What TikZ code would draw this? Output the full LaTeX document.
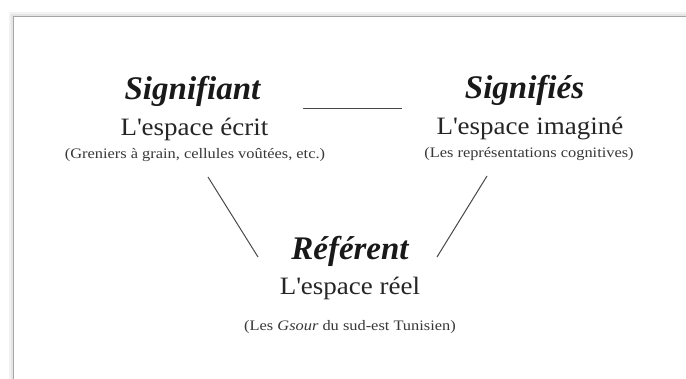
\documentclass[tikz,border=0pt]{standalone}
\usepackage{fontspec}
\setmainfont{Liberation Serif}
\newfontfamily\subfont[FakeStretch=1.08]{Liberation Serif}
\newfontfamily\notefont[FakeStretch=1.13]{Liberation Serif}
\begin{document}
\begin{tikzpicture}[x=1pt,y=-1pt,
  title/.style={anchor=base,inner sep=0pt,font=\fontsize{33}{35}\selectfont\bfseries\itshape,text=black!90},
  sub/.style={anchor=base,inner sep=0pt,font=\subfont\fontsize{25}{28}\selectfont,text=black!85},
  note/.style={anchor=base,inner sep=0pt,font=\notefont\fontsize{14.5}{16}\selectfont,text=black!78},
  link/.style={draw=black!72,line width=1pt}]
\useasboundingbox (0,0) rectangle (686,378);
% frame with soft shadow
\fill[black!5] (9,12) rectangle (700,400);
\fill[black!10] (11,14) rectangle (700,400);
\fill[white,draw=black!35,line width=0.8pt] (13,16) rectangle (700,400);
% left
\node[title] (sa) at (192.5,99) {Signifiant};
\node[sub] (sae) at (194.5,135) {L\textquotesingle espace écrit};
\node[note] (san) at (195,158) {(Greniers à grain, cellules voûtées, etc.)};
% right
\node[title] (se) at (524.5,98) {Signifiés};
\node[sub] (see) at (530,134) {L\textquotesingle espace imaginé};
\node[note] (sen) at (529,157) {(Les représentations cognitives)};
% bottom
\node[title] (re) at (350,259) {Référent};
\node[sub] (ree) at (350,294) {L\textquotesingle espace réel};
\node[note] (ren) at (350,330) {(Les \textit{Gsour} du sud-est Tunisien)};
% connectors
\coordinate (h1) at (303,108); \coordinate (h2) at (402,108);
\coordinate (l1) at (208,177); \coordinate (l2) at (258,257);
\coordinate (r1) at (487,176); \coordinate (r2) at (437,257);
\draw[link] (h1) -- (h2);
\draw[link] (l1) -- (l2);
\draw[link] (r1) -- (r2);
\end{tikzpicture}
\end{document}
